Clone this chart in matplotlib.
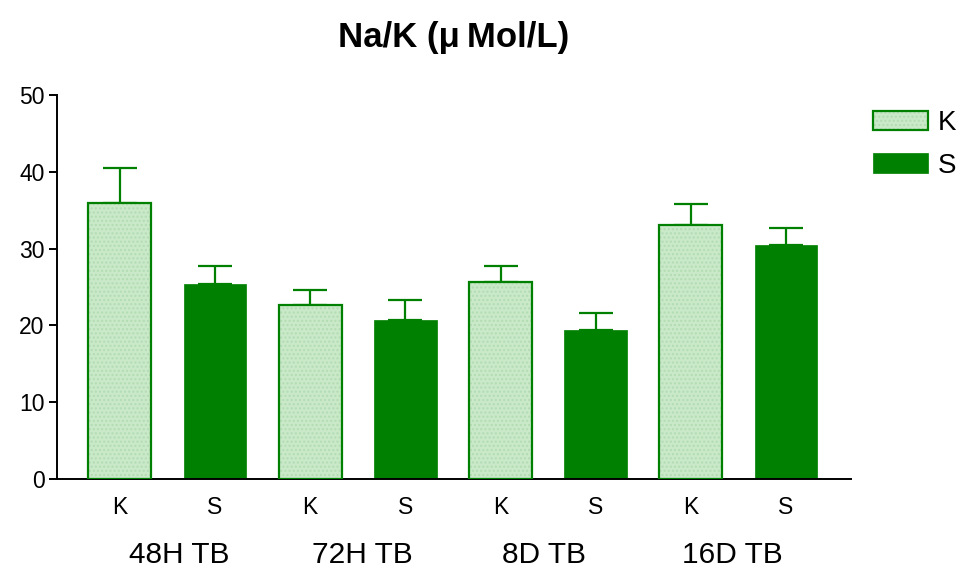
import numpy as np
import matplotlib
matplotlib.use('Agg')
import matplotlib.pyplot as plt
from matplotlib.legend_handler import HandlerTuple

plt.rcParams['font.family'] = ['Liberation Sans', 'DejaVu Sans']

groups = ['48H TB', '72H TB', '8D TB', '16D TB']
series = ['K', 'S']
k_mean = [36.0, 22.6, 25.7, 33.1]
k_err = [4.45, 2.0, 2.0, 2.75]
s_mean = [25.4, 20.7, 19.4, 30.5]
s_err = [2.3, 2.6, 2.25, 2.2]

green = '#008000'
light = '#c9e9c9'

fig = plt.figure(figsize=(9.61, 5.71), dpi=100)
ax = fig.add_axes([0.0593, 0.1611, 0.826, 0.6725])

xk = np.arange(len(groups)) * 2
xs = xk + 1
w = 0.66

# error bars (upper only)
ax.errorbar(xk, k_mean, yerr=[np.zeros(4), k_err], fmt='none', ecolor=green,
            elinewidth=1.6, capsize=12, capthick=1.6, zorder=1)
ax.errorbar(xs, s_mean, yerr=[np.zeros(4), s_err], fmt='none', ecolor=green,
            elinewidth=1.6, capsize=12, capthick=1.6, zorder=1)

hk = ax.bar(xk, k_mean, w, color=light, hatch='....', edgecolor='#b2dcb2', linewidth=0, zorder=2)
ok = ax.bar(xk, k_mean, w, color='none', edgecolor=green, linewidth=1.6, zorder=3)
bs = ax.bar(xs, s_mean, w, color=green, edgecolor=green, linewidth=0.5, zorder=2)

ax.set_xlim(-0.66, 7.68)
ax.set_ylim(0, 50)
ax.set_yticks([0, 10, 20, 30, 40, 50])
ax.set_xticks(np.arange(8))
ax.set_xticklabels(series * 4, fontsize=16.5)
ax.tick_params(axis='x', length=0, pad=12)
ax.tick_params(axis='y', labelsize=16.5, length=6, width=1.4, pad=3)
for s in ['top', 'right']:
    ax.spines[s].set_visible(False)
for s in ['left', 'bottom']:
    ax.spines[s].set_linewidth(1.4)

# group labels
for gx, g in zip([0.62, 2.55, 4.46, 6.44], groups):
    ax.text(gx, -0.198, g, transform=ax.get_xaxis_transform(), ha='center', va='center', fontsize=21.5)

fig.text(0.472, 1 - 38 / 571, 'Na/K (\u03bc\u2009Mol/L)', ha='center', va='center', fontsize=25, fontweight='bold')

fig.legend([(hk[0], ok[0]), bs[0]], series, loc='upper left', bbox_to_anchor=(0.908, 0.807),
           frameon=False, fontsize=20, handlelength=2.0, handleheight=0.72,
           handletextpad=0.35, labelspacing=0.6, borderpad=0, borderaxespad=0,
           handler_map={tuple: HandlerTuple(ndivide=1, pad=0)})

fig.savefig('out.png', dpi=100)
